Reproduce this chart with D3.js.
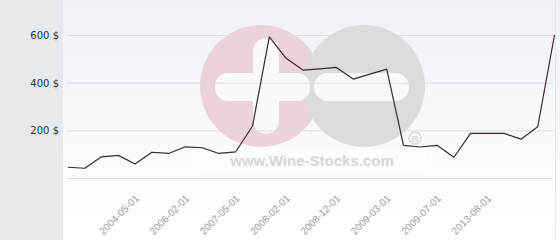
<!DOCTYPE html>
<html>
<head>
<meta charset="utf-8">
<script src="https://cdn.jsdelivr.net/npm/d3@7"></script>
<style>
  html, body { margin: 0; padding: 0; background: #fff; }
  svg { display: block; }
</style>
</head>
<body>
<div id="chart"></div>
<script>
// Price series, one value per auction date (30 points)
const values = [45, 41, 89, 95, 59, 108, 103, 131, 127, 103, 110, 218, 592, 502, 453,
                458, 464, 415, 436, 457, 137, 130, 137, 87, 187, 187, 187, 163, 215, 600];

// Only every third date is labelled on the axis
const tickLabels = ['2004-05-01', '2006-02-01', '2007-05-01', '2008-02-01',
                    '2008-12-01', '2009-03-01', '2009-07-01', '2013-08-01'];
const tickIndexes = [4, 7, 10, 13, 16, 19, 22, 25];

const yTicks = [200, 400, 600];

const width = 560;
const height = 240;
const panelW = 63;

const svg = d3.select('#chart')
    .append('svg')
    .attr('width', width)
    .attr('height', height);

// Background gradient for plot area
const defs = svg.append('defs');
const grad = defs.append('linearGradient')
    .attr('id', 'bg')
    .attr('x1', 0).attr('y1', 0).attr('x2', 0).attr('y2', 1);
grad.append('stop').attr('offset', '0%').attr('stop-color', '#eff1f7');
grad.append('stop').attr('offset', '75%').attr('stop-color', '#fcfcfe');
grad.append('stop').attr('offset', '100%').attr('stop-color', '#ffffff');

svg.append('rect')
    .attr('x', panelW).attr('y', 0)
    .attr('width', width - panelW).attr('height', height)
    .attr('fill', 'url(#bg)');

// Left grey panel
svg.append('rect')
    .attr('x', 0).attr('y', 0)
    .attr('width', panelW).attr('height', height)
    .attr('fill', '#e6eaed');

svg.append('line')
    .attr('x1', width - 4.5).attr('x2', width - 4.5)
    .attr('y1', 0).attr('y2', height)
    .attr('stroke', '#e4e6ec');

// Watermark
const wm = svg.append('g');
wm.append('circle').attr('cx', 261).attr('cy', 86).attr('r', 61).attr('fill', '#ebd3d9');
wm.append('circle').attr('cx', 364).attr('cy', 86).attr('r', 61).attr('fill', '#dcdcdf');
wm.append('rect').attr('x', 215).attr('y', 73).attr('width', 95).attr('height', 28)
    .attr('rx', 13).attr('fill', '#f9f9fb');
wm.append('rect').attr('x', 253).attr('y', 38).attr('width', 26).attr('height', 96)
    .attr('rx', 13).attr('fill', '#f9f9fb');
wm.append('rect').attr('x', 314).attr('y', 73).attr('width', 95).attr('height', 28)
    .attr('rx', 14).attr('fill', '#f9f9fb');
wm.append('rect').attr('x', 197).attr('y', 150).attr('width', 230).attr('height', 22)
    .attr('fill', '#ffffff').attr('opacity', 0.6);
wm.append('text')
    .attr('x', 312).attr('y', 166)
    .attr('text-anchor', 'middle')
    .attr('font-family', 'Liberation Sans, Arial, sans-serif')
    .attr('font-weight', 'bold')
    .attr('font-size', 15)
    .attr('fill', '#d6d6d8')
    .text('www.Wine-Stocks.com');
wm.append('circle').attr('cx', 415).attr('cy', 138).attr('r', 6)
    .attr('fill', 'none').attr('stroke', '#d8d8da').attr('stroke-width', 1.4);
wm.append('text')
    .attr('x', 415).attr('y', 141.5)
    .attr('text-anchor', 'middle')
    .attr('font-family', 'Liberation Sans, Arial, sans-serif')
    .attr('font-weight', 'bold')
    .attr('font-size', 9)
    .attr('fill', '#d8d8da')
    .text('R');

// Scales
const x = d3.scalePoint()
    .domain(d3.range(values.length))
    .range([68, 554.5]);

const y = d3.scaleLinear()
    .domain([0, 600])
    .range([178, 35]);

// Gridlines + y labels
const yAxis = svg.append('g')
    .attr('transform', `translate(${panelW},0)`)
    .call(d3.axisLeft(y)
        .tickValues(yTicks)
        .tickSize(-(553 - panelW - 4))
        .tickPadding(0)
        .tickFormat(d => d + ' $'));
yAxis.select('.domain').remove();
yAxis.selectAll('.tick line')
    .attr('stroke', '#dddde2')
    .attr('transform', 'translate(4,0)');
yAxis.selectAll('.tick text')
    .attr('x', -4)
    .attr('dy', '0.35em')
    .attr('font-family', 'DejaVu Sans, sans-serif')
    .attr('font-size', 10)
    .attr('fill', '#333');

// Baseline
svg.append('line')
    .attr('x1', 67).attr('x2', 553)
    .attr('y1', Math.round(y(0)) + 0.5).attr('y2', Math.round(y(0)) + 0.5)
    .attr('stroke', '#dddde2');

// X labels
const xAxis = svg.append('g')
    .attr('transform', 'translate(0,178)')
    .call(d3.axisBottom(x)
        .tickValues(tickIndexes)
        .tickSize(0)
        .tickFormat((d, i) => tickLabels[i]));
xAxis.select('.domain').remove();
xAxis.selectAll('.tick text')
    .attr('text-anchor', 'end')
    .attr('font-family', 'Liberation Sans, Arial, sans-serif')
    .attr('font-size', 10)
    .attr('fill', '#9a9a9a')
    .attr('dy', 0)
    .attr('y', 0)
    .attr('transform', 'translate(4,21) rotate(-45)');

// Price line
const line = d3.line()
    .x((d, i) => x(i))
    .y(d => y(d));

svg.append('path')
    .datum(values)
    .attr('fill', 'none')
    .attr('stroke', '#3b2530')
    .attr('stroke-width', 1.2)
    .attr('stroke-linejoin', 'round')
    .attr('d', line);
</script>
</body>
</html>
